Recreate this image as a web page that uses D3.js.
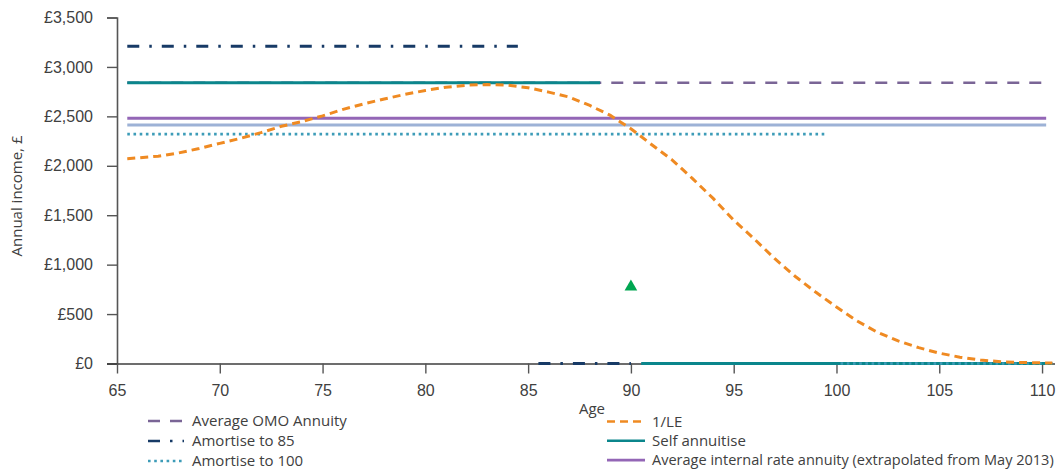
<!DOCTYPE html>
<html>
<head>
<meta charset="utf-8">
<script src="https://cdn.jsdelivr.net/npm/d3@7/dist/d3.min.js"></script>
<style>
  html, body { margin: 0; padding: 0; background: #fff; }
  svg { display: block; font-family: "Open Sans", "Noto Sans", sans-serif; }
</style>
</head>
<body>
<svg id="chart" width="1060" height="470"></svg>
<script>
// Tick values
const xTicks = [65, 70, 75, 80, 85, 90, 95, 100, 105, 110];
const yTicks = [0, 500, 1000, 1500, 2000, 2500, 3000, 3500];

// Income paths by age: [age, annual income £]; null breaks the line
const omoAnnuity = [[65.5, 2840], [110, 2840]];
const amortise85 = [[65.5, 3210], [84.5, 3210], [85, null], [85.5, 0], [90, 0]];
const amortise100 = [[65.5, 2320], [99.5, 2320], [100, null], [100.2, 0], [110.5, 0]];
const selfAnnuitise = [[65.5, 2840], [88.5, 2840], [89, null], [90.5, 0], [110.5, 0]];
const internalRate = [[65.5, 2480], [110.2, 2480]];
const otherAnnuity = [[65.5, 2413], [110.2, 2413]];
const lifeExpectancy = [
  [65.5, 2072], [66, 2080], [67, 2097], [68, 2130], [69, 2175], [70, 2227],
  [71, 2277], [72, 2335], [73, 2400], [74, 2447], [75, 2505], [76, 2571],
  [77, 2626], [78, 2676], [79, 2722], [80, 2762], [81, 2795], [82, 2815],
  [83, 2822], [84, 2815], [85, 2790], [86, 2745], [87, 2695], [88, 2610],
  [89, 2510], [90, 2375], [91, 2215], [92, 2060], [93, 1870], [94, 1670],
  [95, 1450], [96, 1260], [97, 1060], [98, 880], [99, 720], [100, 572],
  [101, 430], [102, 315], [103, 228], [104, 160], [105, 105], [106, 64],
  [107, 36], [108, 17], [109, 10], [110, 6], [110.5, 5]
];
const markerPoint = [[90, 775]];

(function () {
  const svg = d3.select("#chart");
  const width = 1060;
  const plotLeft = 117, plotRight = 1055, plotTop = 17.5, plotBottom = 363.5;

  const x = d3.scaleLinear().domain([65, 110.63]).range([plotLeft, plotRight]);
  const y = d3.scaleLinear().domain([0, 3500]).range([plotBottom, plotTop]);

  const axisColor = "#3c3c3c";
  const textColor = "#404040";

  // Y axis
  const yAxis = svg.append("g")
    .attr("transform", `translate(${plotLeft},0)`)
    .call(d3.axisLeft(y).tickValues(yTicks).tickSize(10).tickPadding(14)
      .tickFormat(d => "£" + d3.format(",")(d)));
  yAxis.select(".domain").attr("stroke", "#555").attr("stroke-width", 1.6);
  yAxis.selectAll(".tick line").attr("stroke", "#555").attr("stroke-width", 1.4);
  yAxis.selectAll(".tick text").attr("fill", textColor).style("font-size", "16px");

  // X axis
  const xAxis = svg.append("g")
    .attr("transform", `translate(0,${plotBottom})`)
    .call(d3.axisBottom(x).tickValues(xTicks).tickSize(10).tickPadding(11).tickSizeOuter(0));
  xAxis.select(".domain").attr("stroke", axisColor).attr("stroke-width", 1.5)
    .attr("d", `M${plotLeft - 10},0.5H${plotRight}`);
  xAxis.selectAll(".tick line").attr("stroke", "#555").attr("stroke-width", 1.4);
  xAxis.selectAll(".tick text").attr("fill", textColor).style("font-size", "16px");

  // Axis titles
  svg.append("text")
    .attr("transform", `translate(22,196) rotate(-90)`)
    .attr("text-anchor", "middle")
    .attr("fill", textColor)
    .style("font-size", "15px")
    .text("Annual income, £");

  svg.append("text")
    .attr("x", 592).attr("y", 414)
    .attr("text-anchor", "middle")
    .attr("fill", textColor)
    .style("font-size", "15px")
    .text("Age");

  const line = d3.line()
    .defined(d => d[1] !== null)
    .x(d => x(d[0]))
    .y(d => y(d[1]));

  const styles = {
    omo: { stroke: "#7a6596", width: 2.6, dash: "12,10" },
    am85: { stroke: "#173a66", width: 3, dash: "12,10,2.5,10" },
    am100: { stroke: "#3d9cb8", width: 2.6, dash: "2.6,3.6" },
    self: { stroke: "#0b868c", width: 3.2, dash: null },
    irr: { stroke: "#9366b6", width: 3, dash: null },
    other: { stroke: "#9db2d6", width: 3, dash: null },
    le: { stroke: "#ef8a22", width: 3, dash: "8,5" }
  };

  const plot = svg.append("g").attr("fill", "none");
  function drawPath(data, s) {
    plot.append("path")
      .datum(data)
      .attr("d", line)
      .attr("stroke", s.stroke)
      .attr("stroke-width", s.width)
      .attr("stroke-dasharray", s.dash);
  }

  drawPath(omoAnnuity, styles.omo);
  drawPath(otherAnnuity, styles.other);
  drawPath(internalRate, styles.irr);
  drawPath(selfAnnuitise, styles.self);
  drawPath(amortise85, styles.am85);
  drawPath(amortise100, styles.am100);
  drawPath(lifeExpectancy, styles.le);

  svg.append("g").selectAll("path")
    .data(markerPoint)
    .join("path")
    .attr("transform", d => `translate(${x(d[0])},${y(d[1])})`)
    .attr("d", d3.symbol(d3.symbolTriangle, 70))
    .attr("fill", "#00a651");

  // Legend
  const legendLeft = [
    { label: "Average OMO Annuity", s: styles.omo },
    { label: "Amortise to 85", s: styles.am85 },
    { label: "Amortise to 100", s: styles.am100 }
  ];
  const legendRight = [
    { label: "1/LE", s: styles.le },
    { label: "Self annuitise", s: styles.self },
    { label: "Average internal rate annuity (extrapolated from May 2013)", s: styles.irr }
  ];

  function drawLegend(items, x0, lineLen, textX, y0, step, size) {
    const g = svg.append("g");
    items.forEach((it, i) => {
      const yy = y0 + i * step;
      g.append("line")
        .attr("x1", x0).attr("x2", x0 + lineLen)
        .attr("y1", yy).attr("y2", yy)
        .attr("stroke", it.s.stroke)
        .attr("stroke-width", Math.min(it.s.width, 2.6))
        .attr("stroke-dasharray", it.s.dash);
      const t = g.append("text")
        .attr("x", textX).attr("y", yy)
        .attr("dy", "0.35em")
        .attr("fill", textColor)
        .style("font-size", size + "px")
        .text(it.label);
      // shrink long labels so they stay inside the right edge
      const room = width - 6 - textX;
      const len = t.node().getComputedTextLength();
      if (len > room) {
        t.style("font-size", (size * room / len).toFixed(2) + "px");
      }
    });
  }
  drawLegend(legendLeft, 148, 36, 192, 421, 20, 15);
  drawLegend(legendRight, 607, 38, 652, 421.5, 19.3, 15);
})();
</script>
</body>
</html>
